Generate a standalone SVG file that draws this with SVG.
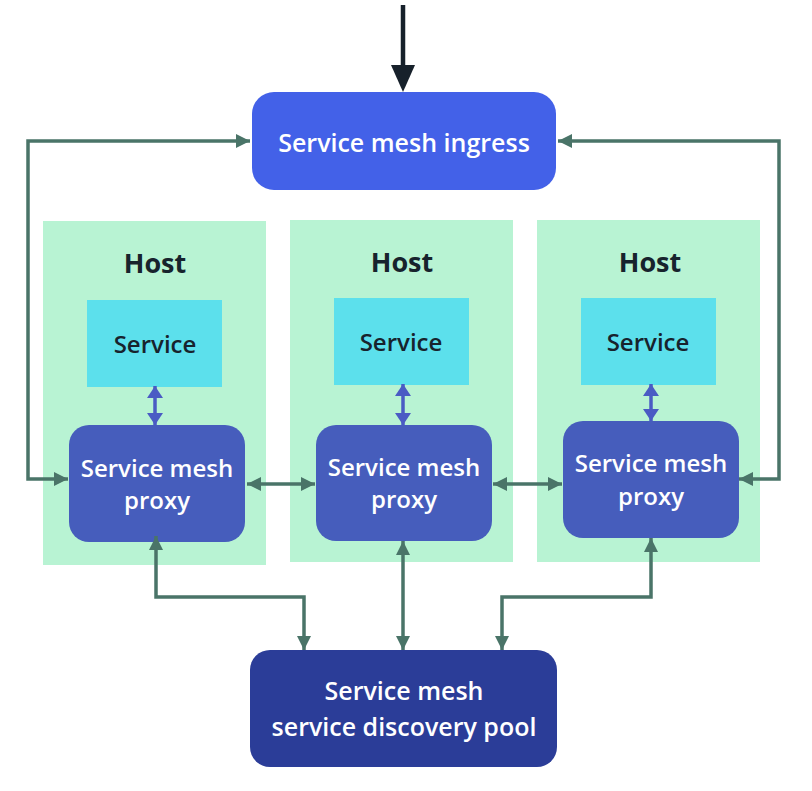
<svg xmlns="http://www.w3.org/2000/svg" width="812" height="791" viewBox="0 0 812 791">
<style>
.host{fill:#B8F3D3}
.svc{fill:#5CE0EC}
.proxy{fill:#465DBC}
.t{font-family:"Open Sans","Liberation Sans",sans-serif;text-anchor:middle}
.w{fill:#FFFFFF;font-weight:600;font-size:24px}
.d{fill:#17232D;font-weight:600;font-size:24px}
.h{fill:#17232D;font-weight:700;font-size:27px}
.g{fill:none;stroke:#4A7468;stroke-width:3.5}
.b{fill:none;stroke:#4A5BC4;stroke-width:3.5}
</style>
<defs>
<marker id="ag" markerUnits="userSpaceOnUse" markerWidth="16" markerHeight="16" refX="14" refY="7" orient="auto-start-reverse" viewBox="0 0 16 14">
<path d="M0,0 L14,7 L0,14 Z" fill="#4A7468"/>
</marker>
<marker id="ab" markerUnits="userSpaceOnUse" markerWidth="14" markerHeight="16" refX="12" refY="8" orient="auto-start-reverse" viewBox="0 0 14 16">
<path d="M0,0 L12,8 L0,16 Z" fill="#4A5BC4"/>
</marker>
</defs>
<rect width="812" height="791" fill="#FFFFFF"/>
<g id="host1">
<rect class="host" x="43" y="221" width="223" height="344"/>
<text class="t h" x="155" y="273">Host</text>
</g>
<g id="host2">
<rect class="host" x="290" y="220" width="223" height="342"/>
<text class="t h" x="402" y="272">Host</text>
</g>
<g id="host3">
<rect class="host" x="537" y="220" width="223" height="342"/>
<text class="t h" x="650" y="272">Host</text>
</g>
<g id="service1">
<rect class="svc" x="87" y="300" width="135" height="87"/>
<text class="t d" x="155" y="353">Service</text>
</g>
<g id="service2">
<rect class="svc" x="334" y="298" width="135" height="87"/>
<text class="t d" x="401" y="351">Service</text>
</g>
<g id="service3">
<rect class="svc" x="581" y="298" width="135" height="87"/>
<text class="t d" x="648" y="351">Service</text>
</g>
<g id="proxy1">
<rect class="proxy" x="69" y="425" width="176" height="117" rx="20"/>
<text class="t w" x="157" y="477">Service mesh</text>
<text class="t w" x="157" y="509">proxy</text>
</g>
<g id="proxy2">
<rect class="proxy" x="316" y="425" width="176" height="116" rx="20"/>
<text class="t w" x="404" y="476">Service mesh</text>
<text class="t w" x="404" y="508">proxy</text>
</g>
<g id="proxy3">
<rect class="proxy" x="563" y="421" width="176" height="117" rx="20"/>
<text class="t w" x="651" y="472">Service mesh</text>
<text class="t w" x="651" y="505">proxy</text>
</g>
<g id="ingress">
<rect x="252" y="92" width="304" height="98" rx="22" fill="#4361E8"/>
<text class="t w" x="404" y="152" style="font-size:25px">Service mesh ingress</text>
</g>
<g id="discovery">
<rect x="250" y="650" width="307" height="117" rx="20" fill="#2B3D98"/>
<text class="t w" x="404" y="700" style="font-size:25px">Service mesh</text>
<text class="t w" x="404" y="736" style="font-size:25px">service discovery pool</text>
</g>
<g id="connectors">
<line x1="403" y1="5" x2="403" y2="68" stroke="#17212B" stroke-width="4.5"/>
<path d="M391,65 L415,65 L403,92 Z" fill="#17212B"/>
<path class="g" d="M250,141 H28 V479 H68" marker-start="url(#ag)" marker-end="url(#ag)"/>
<path class="g" d="M558,141 H779 V479 H739" marker-start="url(#ag)" marker-end="url(#ag)"/>
<path class="g" d="M247,484 H315" marker-start="url(#ag)" marker-end="url(#ag)"/>
<path class="g" d="M493,484 H562" marker-start="url(#ag)" marker-end="url(#ag)"/>
<path class="b" d="M155,386 V425" marker-start="url(#ab)" marker-end="url(#ab)"/>
<path class="b" d="M403,384 V425" marker-start="url(#ab)" marker-end="url(#ab)"/>
<path class="b" d="M651,384 V421" marker-start="url(#ab)" marker-end="url(#ab)"/>
<path class="g" d="M156,536 V597 H304 V650" marker-start="url(#ag)" marker-end="url(#ag)"/>
<path class="g" d="M403,541 V650" marker-start="url(#ag)" marker-end="url(#ag)"/>
<path class="g" d="M651,538 V597 H502 V650" marker-start="url(#ag)" marker-end="url(#ag)"/>
</g>
</svg>
